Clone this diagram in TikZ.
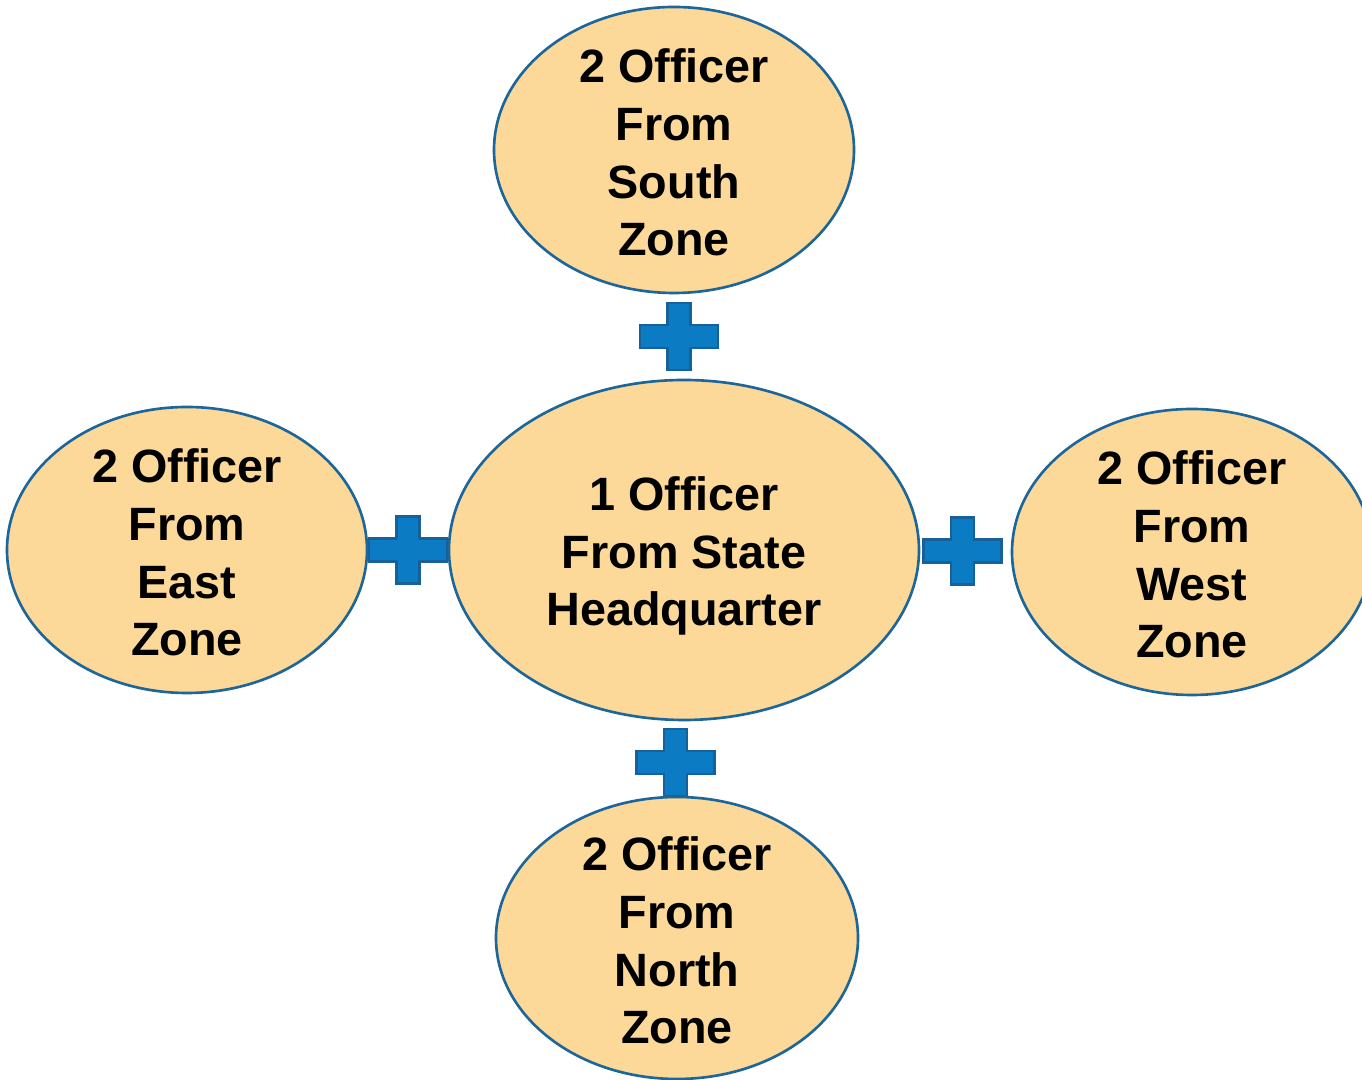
\documentclass[tikz,border=0pt]{standalone}
\usepackage{fontspec}
\setmainfont{Liberation Sans}
\usepackage{tikz}
\usetikzlibrary{shapes,calc,backgrounds}
\pgfdeclarelayer{background}
\pgfsetlayers{background,main}

\definecolor{zonefill}{HTML}{FCD899}
\definecolor{zoneline}{HTML}{1D6699}
\definecolor{plusfill}{HTML}{0B7CC4}
\definecolor{plusline}{HTML}{17609A}

\begin{document}
\begin{tikzpicture}
    \bfseries

    \tikzset{EL/.style={draw=zoneline,line width=0.75pt,fill=zonefill,ellipse,align=center,
        inner xsep=0pt,inner ysep=-0.2cm,minimum width=3.6cm,minimum height=2.86cm,
        font=\fontsize{13.3}{16.4}\selectfont}}
    \tikzset{PS/.style={draw=plusline,line width=0.7pt,fill=plusfill}}
    \tikzset{plussign/.pic={
        \path[PS] (-0.39,-0.115) -- (-0.115,-0.115) -- (-0.115,-0.335) -- (0.115,-0.335)
            -- (0.115,-0.115) -- (0.39,-0.115) -- (0.39,0.115) -- (0.115,0.115)
            -- (0.115,0.335) -- (-0.115,0.335) -- (-0.115,0.115) -- (-0.39,0.115) -- cycle;}}

    \clip (0,0) rectangle (13.62,10.80);

    \node (hq) [EL,minimum width=4.7cm,minimum height=3.4cm] at (6.84, 5.30) {\rule{0pt}{0.46cm}1 Officer\\From State\\Headquarter};
    	\node (south) [EL] at (6.74, 9.30) {\rule{0pt}{0.39cm}2 Officer\\From\\South\\Zone};
    	\node (east) [EL] at (1.87, 5.30) {\rule{0pt}{0.39cm}2 Officer\\From\\East\\Zone};
    	\node (west) [EL] at (11.92, 5.28) {\rule{0pt}{0.39cm}2 Officer\\From\\West\\Zone};
    	\node (north) [EL,minimum width=3.62cm,minimum height=2.82cm] at (6.77, 1.42) {\rule{0pt}{0.39cm}2 Officer\\From\\North\\Zone};

    \begin{pgfonlayer}{background}
    	\pic at ($(hq.north)!0.5!(south.south)$) {plussign};
    	\pic at ($(hq.west)!0.5!(east.east)$) {plussign};
    	\pic at ($(hq.east)!0.5!(west.west)+(-0.03,0)$) {plussign};
    	\pic at ($(hq.south)!0.5!(north.north)+(-0.05,-0.04)$) {plussign};
    \end{pgfonlayer}
\end{tikzpicture}
\end{document}
